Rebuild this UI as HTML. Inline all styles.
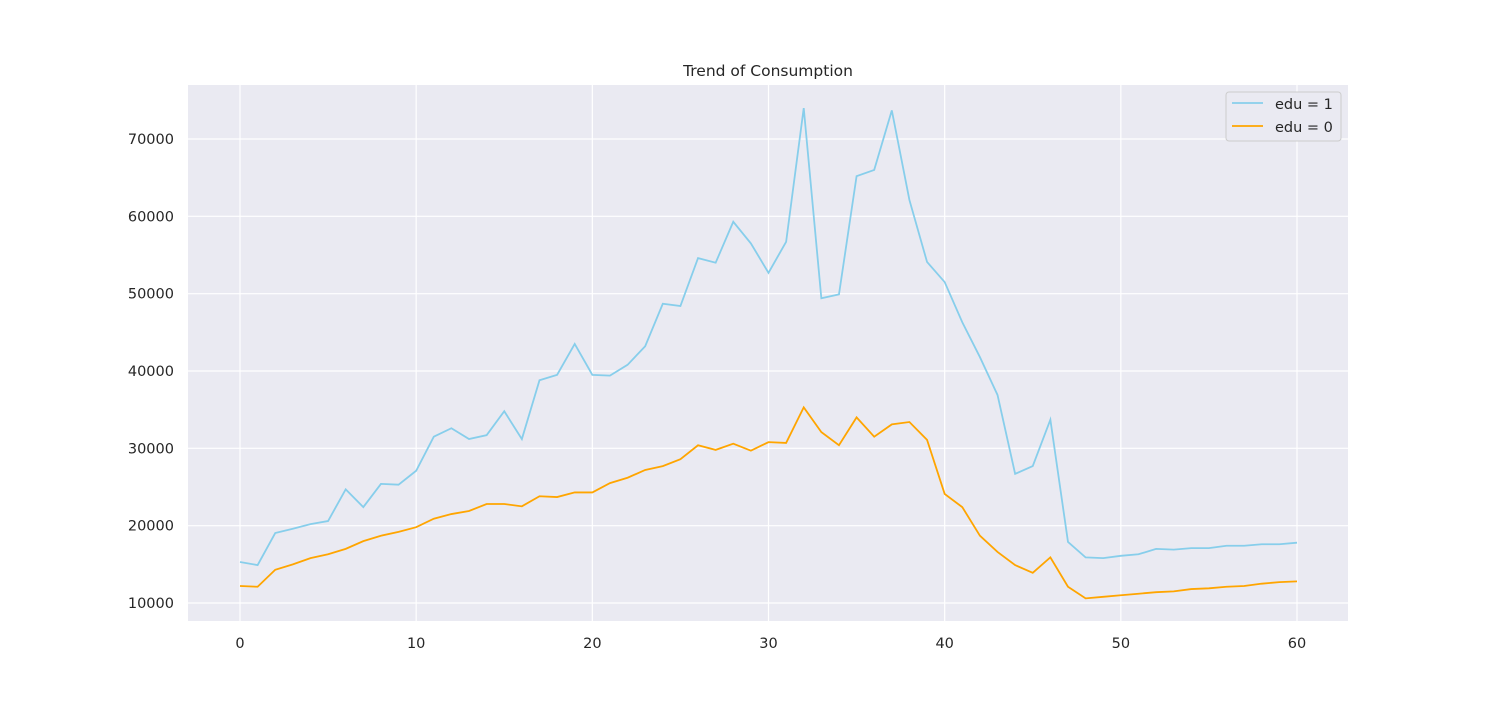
<!DOCTYPE html>
<html><head><meta charset="utf-8"><style>
body{margin:0;background:#fff;}
svg{font-family:"DejaVu Sans","Liberation Sans",sans-serif;}
</style></head><body>
<svg width="1500" height="700">
<rect x="188" y="85" width="1160" height="536" fill="#eaeaf2"/>
<g id="grid"></g>
<g id="ticks"></g>
<g id="lines"></g>
<text x="768" y="76" text-anchor="middle" font-size="15.5" fill="#262626">Trend of Consumption</text>
<g>
<rect x="1226" y="92" width="115" height="49" rx="3" fill="#eaeaf2" stroke="#cccccc"/>
<line x1="1232" y1="103" x2="1263" y2="103" stroke="#87ceeb" stroke-width="1.8"/>
<text x="1275" y="109" font-size="14.5" fill="#262626">edu = 1</text>
<line x1="1232" y1="126" x2="1263" y2="126" stroke="#ffa500" stroke-width="1.8"/>
<text x="1275" y="132" font-size="14.5" fill="#262626">edu = 0</text>
</g>
</svg>
<script>
const edu1=[15300,14900,19050,19600,20200,20600,24700,22400,25400,25300,27100,31500,32600,31200,31700,34800,31200,38800,39500,43500,39500,39400,40800,43200,48700,48400,54600,54000,59300,56500,52700,56700,74000,49400,49900,65200,66000,73700,62100,54100,51500,46300,41800,36900,26700,27700,33700,17900,15900,15800,16100,16300,17000,16900,17100,17100,17400,17400,17600,17600,17800];
const edu0=[12200,12100,14300,15000,15800,16300,17000,18000,18700,19200,19800,20900,21500,21900,22800,22800,22500,23800,23700,24300,24300,25500,26200,27200,27700,28600,30400,29800,30600,29700,30800,30700,35300,32100,30400,34000,31500,33100,33400,31100,24100,22400,18700,16600,14900,13900,15900,12100,10600,10800,11000,11200,11400,11500,11800,11900,12100,12200,12500,12700,12800];
const xTicks=[0,10,20,30,40,50,60];
const yTicks=[10000,20000,30000,40000,50000,60000,70000];
const xs=v=>240+(v)*(1057/60);
const ys=v=>603-(v-10000)*(464/60000);
const NS="http://www.w3.org/2000/svg";
const grid=document.getElementById('grid'),ticks=document.getElementById('ticks'),lines=document.getElementById('lines');
function mk(tag,attrs,parent){const e=document.createElementNS(NS,tag);for(const k in attrs)e.setAttribute(k,attrs[k]);parent.appendChild(e);return e;}
xTicks.forEach(t=>{
  const l=mk('line',{x1:xs(t),x2:xs(t),y1:85,y2:621,stroke:'#fff','stroke-width':1.2},grid);
  
  
  const tx=mk('text',{x:xs(t),y:648,'text-anchor':'middle','font-size':14.5,fill:'#262626'},ticks);
  tx.textContent=t;
  
  
});
yTicks.forEach(t=>{
  const l=mk('line',{x1:188,x2:1348,y1:ys(t),y2:ys(t),stroke:'#fff','stroke-width':1.2},grid);
  
  
  const tx=mk('text',{x:174,y:ys(t)+5,'text-anchor':'end','font-size':14.5,fill:'#262626'},ticks);
  tx.textContent=t;
  
  
});
function series(data,color,name){
  const p=mk('polyline',{points:data.map((v,i)=>xs(i)+','+ys(v)).join(' '),fill:'none',stroke:color,'stroke-width':1.8},lines);
  
  
}
series(edu1,'#87ceeb','line-edu-1');
series(edu0,'#ffa500','line-edu-0');
</script>
</body></html>
